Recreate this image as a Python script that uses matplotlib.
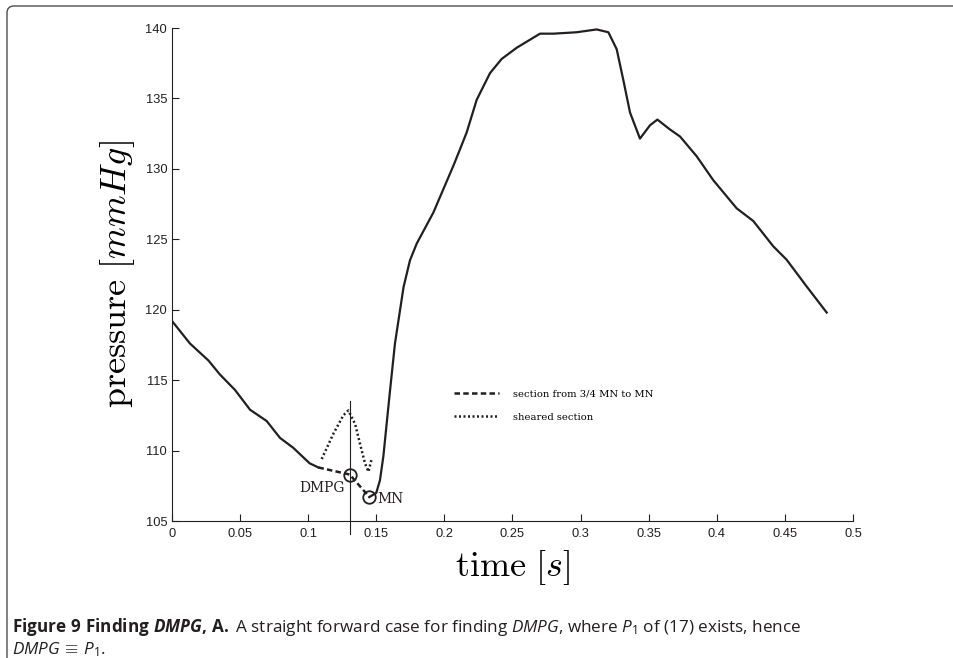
import numpy as np
import matplotlib
matplotlib.use("Agg")
from matplotlib import pyplot as plt
from matplotlib.patches import FancyBboxPatch
from matplotlib.transforms import Affine2D

# кривая давления до начала штриховой части
t_left = [0, 0.0132, 0.0267, 0.0352, 0.0463, 0.0573, 0.0695, 0.0793, 0.089, 0.101, 0.1075]
p_left = [119.2, 117.6, 116.4, 115.4, 114.3, 112.9, 112.1, 110.9, 110.2, 109.1, 108.8]

# кривая после MN
t_right = [0.1449, 0.150, 0.1527, 0.1552, 0.1576, 0.1598, 0.1637, 0.170, 0.1747, 0.1797,
           0.1919, 0.2065, 0.2115, 0.2164, 0.2237, 0.2335, 0.2420, 0.2531, 0.2702, 0.280,
           0.2971, 0.3118, 0.3204, 0.3265, 0.3314, 0.3363, 0.3436, 0.351, 0.3564, 0.3656,
           0.373, 0.3852, 0.3974, 0.4146, 0.4268, 0.4415, 0.4513, 0.466, 0.4807]
p_right = [106.7, 107.0, 107.9, 109.6, 111.9, 114.0, 117.6, 121.6, 123.5, 124.7,
           126.9, 130.2, 131.4, 132.6, 134.9, 136.8, 137.8, 138.6, 139.6, 139.6,
           139.7, 139.9, 139.7, 138.5, 136.3, 134.0, 132.15, 133.1, 133.5, 132.8,
           132.3, 130.9, 129.2, 127.2, 126.3, 124.5, 123.55, 121.65, 119.8]

# участок от 3/4 MN до MN
t_dash = [0.1075, 0.1305, 0.1449]
p_dash = [108.8, 108.3, 106.7]

# сдвинутый участок
t_shear = [0.1099, 0.1185, 0.1258, 0.1295, 0.1344, 0.138, 0.1417, 0.1442, 0.1466]
p_shear = [109.4, 111.2, 112.5, 112.85, 111.9, 110.5, 109.1, 108.5, 109.4]

t_dmpg, p_dmpg = 0.1305, 108.3
t_mn, p_mn = 0.1449, 106.7

col = '#231f20'

fig = plt.figure(figsize=(9.54, 6.58), dpi=100)
ax = fig.add_axes([0.1803, 0.2082, 0.7138, 0.7492])

ax.plot(t_left, p_left, color=col, lw=1.6)
ax.plot(t_right, p_right, color=col, lw=1.6)
ax.plot(t_dash, p_dash, color=col, lw=1.8, ls=(0, (2.2, 1.3)),
        label='section from 3/4 MN to MN')
ax.plot(t_shear, p_shear, color=col, lw=1.8, ls=(0, (0.8, 1.0)),
        label='sheared section')
ax.plot([t_dmpg, t_mn], [p_dmpg, p_mn], 'o', mfc='none', mec=col, ms=9, mew=1.3)

ax.plot([t_dmpg, t_dmpg], [113.5, 104.1], color=col, lw=0.8, clip_on=False)

ax.text(0.1265, 107.35, 'DMPG', ha='right', va='center', fontsize=10,
        family='DejaVu Serif', color=col)
ax.text(0.1505, 106.55, 'MN', ha='left', va='center', fontsize=10,
        family='DejaVu Serif', color=col)

ax.legend(loc='upper left', bbox_to_anchor=(0.401, 0.285), frameon=False,
          handlelength=4.5, handletextpad=1.4, labelspacing=1.4,
          prop={'family': 'DejaVu Serif', 'size': 7.2})

ax.set_xlim(0, 0.5)
ax.set_ylim(105, 140)
ax.set_xticks(np.arange(0, 0.51, 0.05))
ax.set_xticklabels(['0', '0.05', '0.1', '0.15', '0.2', '0.25', '0.3', '0.35', '0.4', '0.45', '0.5'])
ax.set_yticks(np.arange(105, 141, 5))
ax.tick_params(direction='in', length=5, width=0.8, labelsize=9.3, colors=col)
ax.tick_params(axis='x', pad=5)
for lab in ax.get_xticklabels() + ax.get_yticklabels():
    lab.set_family('Liberation Sans')
ax.spines['top'].set_visible(False)
ax.spines['right'].set_visible(False)
for s in ['left', 'bottom']:
    ax.spines[s].set_linewidth(0.8)
    ax.spines[s].set_color(col)

ax.set_xlabel(r'$\mathrm{time}\ [s]$', fontsize=26, math_fontfamily='cm', labelpad=6)
ax.set_ylabel(r'$\mathrm{pressure}\ [mmHg]$', fontsize=26, math_fontfamily='cm', labelpad=6)

# подпись рисунка
plt.rcParams['mathtext.fontset'] = 'custom'
plt.rcParams['mathtext.rm'] = 'Open Sans'
plt.rcParams['mathtext.it'] = 'Open Sans:italic'
plt.rcParams['mathtext.bf'] = 'Open Sans:bold'
plt.rcParams['mathtext.bfit'] = 'Open Sans:bold:italic'

line1 = (r'$\mathbf{Figure\ 9\ Finding\ }\mathbfit{DMPG}\mathbf{,}\,\,\mathbf{A.}$'
         r' A straight forward case for finding $\mathit{DMPG}$, where $P_1$ of (17) exists, hence')
line2 = r'$DMPG\,\equiv\,P_1$.'
fig.text(0.0126, 1 - 632 / 658, line1, fontsize=12.3, family='Open Sans',
         math_fontfamily='custom', va='baseline', color=col)
fig.text(0.0126, 1 - 654 / 658, line2, fontsize=12.3, family='Open Sans',
         math_fontfamily='custom', va='baseline', color=col)

# рамка вокруг рисунка, в пикселях сверху вниз
frame = FancyBboxPatch((7, 6), 1100, 660, boxstyle='round,pad=0,rounding_size=7',
                       fill=False, ec='#4d4d4d', lw=1.0)
frame.set_transform(Affine2D().scale(1, -1).translate(0, 658))
fig.patches.append(frame)

fig.savefig('out.png', dpi=100)
